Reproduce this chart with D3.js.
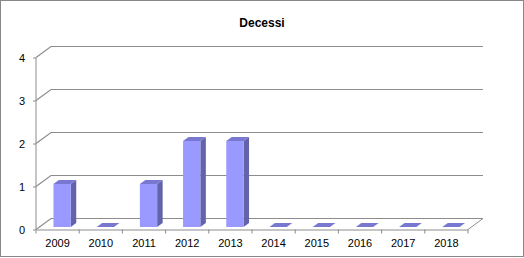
<!DOCTYPE html>
<html>
<head>
<meta charset="utf-8">
<script src="https://cdn.jsdelivr.net/npm/d3@7"></script>
<style>
  body { margin: 0; background: #fff; }
  svg text { font-family: "Liberation Sans", Arial, sans-serif; }
</style>
</head>
<body>
<div class="chart-container"></div>
<script>
var width = 524;
var height = 258;

var years = ["2009", "2010", "2011", "2012", "2013", "2014", "2015", "2016", "2017", "2018"];
var deaths = [1, 0, 1, 2, 2, 0, 0, 0, 0, 0];
var yTicks = [0, 1, 2, 3, 4];

// 3d offsets of the back wall and of the bars
var depth = { dx: 15, dy: -11 };
var barShift = { dx: 4.5, dy: -2.5 };
var barDepth = { dx: 5.5, dy: -4 };

var colors = {
  front: "#9999ff",
  side: "#6363a9",
  top: "#7878d0",
  grid: "#8c8c8c",
};

var svg = d3
  .select(".chart-container")
  .append("svg")
  .attr("width", width)
  .attr("height", height);

// outer border
svg.append("rect")
  .attr("x", 0.5)
  .attr("y", 0.5)
  .attr("width", width - 1)
  .attr("height", height - 2)
  .style("fill", "#fff")
  .style("stroke", "#888");

svg.append("text")
  .attr("x", 262)
  .attr("y", 27)
  .attr("text-anchor", "middle")
  .style("font-size", "12px")
  .style("font-weight", "bold")
  .text("Decessi");

var x = d3.scaleBand().domain(years).range([36, 468]);
var y = d3.scaleLinear().domain([0, 4]).range([229.5, 57.5]);

// back wall gridlines + left wall diagonals
var grid = svg.append("g");
yTicks.forEach(function (t) {
  grid.append("path")
    .attr("d", d3.line()([
      [36, y(t)],
      [36 + depth.dx, y(t) + depth.dy],
      [468 + depth.dx, y(t) + depth.dy],
    ]))
    .style("fill", "none")
    .style("stroke", colors.grid)
    .style("stroke-width", 1.2);
});

// floor right edge
grid.append("line")
  .attr("x1", 468).attr("y1", y(0))
  .attr("x2", 468 + depth.dx).attr("y2", y(0) + depth.dy)
  .style("stroke", colors.grid);

// bars
var barW = x.bandwidth() * 0.4;
var bars = svg.selectAll("g.bar")
  .data(years.map(function (d, i) { return { year: d, value: deaths[i] }; }))
  .enter()
  .append("g")
  .attr("class", "bar");

bars.each(function (d) {
  var g = d3.select(this);
  var x0 = x(d.year) + (x.bandwidth() - barW) / 2 + barShift.dx;
  var x1 = x0 + barW;
  var yb = y(0) + barShift.dy;
  var yt = y(d.value) + barShift.dy;
  var line = d3.line();
  if (d.value > 0) {
    g.append("path")
      .attr("d", line([[x1, yb], [x1 + barDepth.dx, yb + barDepth.dy], [x1 + barDepth.dx, yt + barDepth.dy], [x1, yt]]) + "Z")
      .style("fill", colors.side);
    g.append("rect")
      .attr("x", x0)
      .attr("y", yt)
      .attr("width", barW)
      .attr("height", yb - yt)
      .style("fill", colors.front);
  }
  g.append("path")
    .attr("d", line([[x0, yt], [x1, yt], [x1 + barDepth.dx, yt + barDepth.dy], [x0 + barDepth.dx, yt + barDepth.dy]]) + "Z")
    .style("fill", colors.top);
});

// front axes
var xAxis = svg.append("g")
  .attr("transform", "translate(0," + y(0) + ")")
  .call(d3.axisBottom(x).tickSize(0).tickPadding(10));
xAxis.select(".domain").style("stroke", colors.grid);
xAxis.selectAll("text").style("font-size", "11px").style("fill", "#000");
xAxis.selectAll(".sep")
  .data(years.concat(["end"]))
  .enter()
  .append("line")
  .attr("x1", function (d, i) { return 36 + i * x.bandwidth(); })
  .attr("x2", function (d, i) { return 36 + i * x.bandwidth(); })
  .attr("y1", 0)
  .attr("y2", 4)
  .style("stroke", colors.grid);

var yAxis = svg.append("g")
  .attr("transform", "translate(36,0)")
  .call(d3.axisLeft(y).tickValues(yTicks).tickFormat(d3.format("d")).tickSize(3).tickPadding(8));
yAxis.select(".domain").style("stroke", colors.grid).attr("d", "M0," + y(0) + "V" + y(4));
yAxis.selectAll("line").style("stroke", colors.grid);
yAxis.selectAll("text").style("font-size", "11px").style("fill", "#000");
</script>
</body>
</html>
